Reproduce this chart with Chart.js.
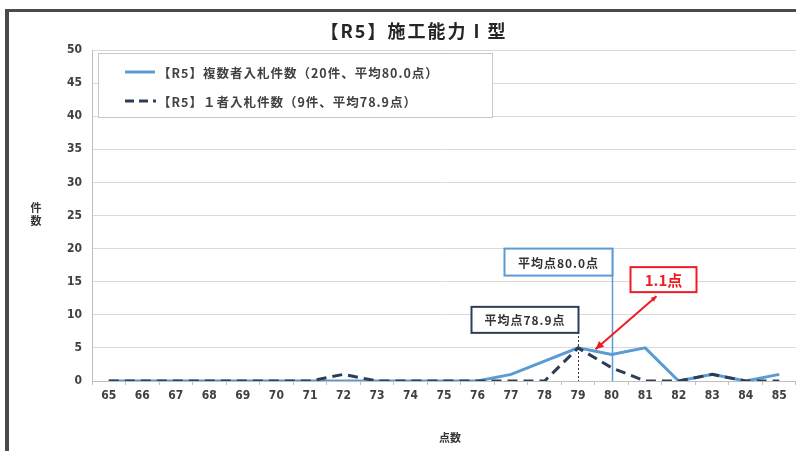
<!DOCTYPE html>
<html>
<head>
<meta charset="utf-8">
<script src="https://cdn.jsdelivr.net/npm/chart.js@4.4.1/dist/chart.umd.min.js"></script>
<style>
  html, body { margin: 0; padding: 0; background: #fff; }
  #wrap { width: 796px; height: 451px; position: relative; }
</style>
</head>
<body>
<div id="wrap"><canvas id="c" width="796" height="451"></canvas></div>
<script>
const scores = ['65','66','67','68','69','70','71','72','73','74','75','76','77','78','79','80','81','82','83','84','85'];
const multiCounts  = [0,0,0,0,0,0,0,0,0,0,0,0,1,3,5,4,5,0,1,0,1];
const singleCounts = [0,0,0,0,0,0,0,1,0,0,0,0,0,0,5,2,0,0,1,0,0];
const chartTitle = '【R5】施工能力Ⅰ型';
const multiLabel = '【R5】複数者入札件数（20件、平均80.0点）';
const singleLabel = '【R5】１者入札件数（9件、平均78.9点）';
const multiAvgText = '平均点80.0点';
const singleAvgText = '平均点78.9点';
const diffText = '1.1点';
const multiAvgAt = '80';
const singleAvgAt = '79';

const BLUE = '#5b9bd5';
const NAVY = '#2c3e56';
const RED = '#ee1c25';
const JP = '"Noto Sans CJK JP", "Noto Sans", sans-serif';
const NUM = '"Liberation Sans Narrow", "DejaVu Sans Condensed", sans-serif';

function boxText(ctx, x, y, w, h, text, border, color, font, spacing) {
  ctx.fillStyle = '#fff';
  ctx.fillRect(x, y, w, h);
  ctx.strokeStyle = border;
  ctx.lineWidth = 2;
  ctx.strokeRect(x, y, w, h);
  ctx.fillStyle = color;
  ctx.font = font;
  ctx.letterSpacing = spacing || '0px';
  ctx.textAlign = 'center';
  ctx.textBaseline = 'middle';
  ctx.fillText(text, x + w / 2, y + h / 2 + 1);
  ctx.letterSpacing = '0px';
}

function arrowHead(ctx, fx, fy, tx, ty, len) {
  const ang = Math.atan2(ty - fy, tx - fx);
  ctx.beginPath();
  ctx.moveTo(tx, ty);
  ctx.lineTo(tx - len * Math.cos(ang - 0.45), ty - len * Math.sin(ang - 0.45));
  ctx.lineTo(tx - len * Math.cos(ang + 0.45), ty - len * Math.sin(ang + 0.45));
  ctx.closePath();
  ctx.fill();
}

const decor = {
  id: 'decor',
  beforeDraw(chart) {
    const ctx = chart.ctx;
    ctx.save();
    ctx.fillStyle = '#fff';
    ctx.fillRect(0, 0, chart.width, chart.height);
    ctx.restore();
  },
  afterDatasetsDraw(chart) {
    const { ctx, chartArea: a, scales: { x, y } } = chart;
    ctx.save();

    // frame
    ctx.fillStyle = '#4a4a4a';
    ctx.fillRect(5, 9, chart.width - 5, 3);
    ctx.fillRect(5, 9, 4, chart.height - 9);

    // title
    ctx.fillStyle = '#262626';
    ctx.font = 'bold 18px ' + JP;
    ctx.letterSpacing = '2px';
    ctx.textAlign = 'center';
    ctx.textBaseline = 'middle';
    ctx.fillText(chartTitle, 414, 31);
    ctx.letterSpacing = '0px';

    // axis titles
    ctx.font = 'bold 11px ' + JP;
    ctx.fillStyle = '#333';
    ctx.fillText('件', 36, 208);
    ctx.fillText('数', 36, 221);
    ctx.fillText('点数', 450, 438);

    // legend box
    const lx = a.left + 6, ly = a.top + 3, lw = 394, lh = 64;
    ctx.fillStyle = '#fff';
    ctx.fillRect(lx, ly, lw, lh);
    ctx.strokeStyle = '#c8c8c8';
    ctx.lineWidth = 1;
    ctx.strokeRect(lx + 0.5, ly + 0.5, lw, lh);
    ctx.lineWidth = 3;
    ctx.strokeStyle = BLUE;
    ctx.beginPath(); ctx.moveTo(lx + 27, ly + 19); ctx.lineTo(lx + 57, ly + 19); ctx.stroke();
    ctx.strokeStyle = NAVY;
    ctx.setLineDash([9, 5]);
    ctx.beginPath(); ctx.moveTo(lx + 27, ly + 48); ctx.lineTo(lx + 58, ly + 48); ctx.stroke();
    ctx.setLineDash([]);
    ctx.fillStyle = '#404040';
    ctx.font = 'bold 12.5px ' + JP;
    ctx.letterSpacing = '1px';
    ctx.textAlign = 'left';
    ctx.fillText(multiLabel, lx + 60, ly + 20);
    ctx.fillText(singleLabel, lx + 60, ly + 49);
    ctx.letterSpacing = '0px';

    // average markers
    const xm = Math.round(x.getPixelForValue(scores.indexOf(multiAvgAt))) + 0.5;
    const xs = Math.round(x.getPixelForValue(scores.indexOf(singleAvgAt))) + 0.5;
    const y0 = y.getPixelForValue(0);

    ctx.strokeStyle = BLUE;
    ctx.lineWidth = 1.5;
    ctx.beginPath(); ctx.moveTo(xm, y.getPixelForValue(20)); ctx.lineTo(xm, y0); ctx.stroke();

    ctx.strokeStyle = '#333';
    ctx.lineWidth = 1;
    ctx.setLineDash([2, 2]);
    ctx.beginPath(); ctx.moveTo(xs, y.getPixelForValue(8)); ctx.lineTo(xs, y0); ctx.stroke();
    ctx.setLineDash([]);

    boxText(ctx, xm - 108, y.getPixelForValue(20), 108, 27, multiAvgText, BLUE, '#333', 'bold 12px ' + JP, '1px');
    boxText(ctx, xs - 107, y.getPixelForValue(11.2), 107, 26, singleAvgText, NAVY, '#333', 'bold 12px ' + JP, '1px');

    // difference callout
    boxText(ctx, xm + 18, y.getPixelForValue(17.2), 66, 25, diffText, RED, RED, 'bold 15px ' + JP);
    const ax1 = xm + 44, ay1 = y.getPixelForValue(12.8);
    const ax2 = xs + 17, ay2 = y.getPixelForValue(4.8);
    ctx.strokeStyle = RED;
    ctx.fillStyle = RED;
    ctx.lineWidth = 2;
    ctx.beginPath(); ctx.moveTo(ax1, ay1); ctx.lineTo(ax2, ay2); ctx.stroke();
    arrowHead(ctx, ax1, ay1, ax2, ay2, 9);
    arrowHead(ctx, ax2, ay2, ax1, ay1, 6);

    ctx.restore();
  }
};

new Chart(document.getElementById('c'), {
  type: 'line',
  data: {
    labels: scores,
    datasets: [
      { label: multiLabel, data: multiCounts, borderColor: BLUE, borderWidth: 3, pointRadius: 0, tension: 0, order: 2 },
      { label: singleLabel, data: singleCounts, borderColor: NAVY, borderWidth: 3, borderDash: [10, 6], pointRadius: 0, tension: 0, order: 1 }
    ]
  },
  options: {
    responsive: false,
    animation: false,
    devicePixelRatio: 1,
    layout: { padding: { top: 50, right: 0, left: 0, bottom: 0 } },
    plugins: { legend: { display: false }, title: { display: false }, tooltip: { enabled: false } },
    scales: {
      x: {
        offset: true,
        grid: { display: true, drawOnChartArea: false, offset: true, tickLength: 4, color: '#bfbfbf' },
        border: { color: '#bfbfbf' },
        ticks: { color: '#404040', font: { family: NUM, size: 12, weight: 'bold' }, padding: 4, maxRotation: 0, autoSkip: false },
        afterFit: s => { s.height = 70; }
      },
      y: {
        min: 0, max: 50,
        ticks: { stepSize: 5, color: '#404040', font: { family: NUM, size: 12, weight: 'bold' }, padding: 10 },
        grid: { color: '#d9d9d9', drawTicks: false },
        border: { color: '#bfbfbf' },
        afterFit: s => { s.height = s.height; s.width = 92; }
      }
    }
  },
  plugins: [decor]
});
</script>
</body>
</html>
